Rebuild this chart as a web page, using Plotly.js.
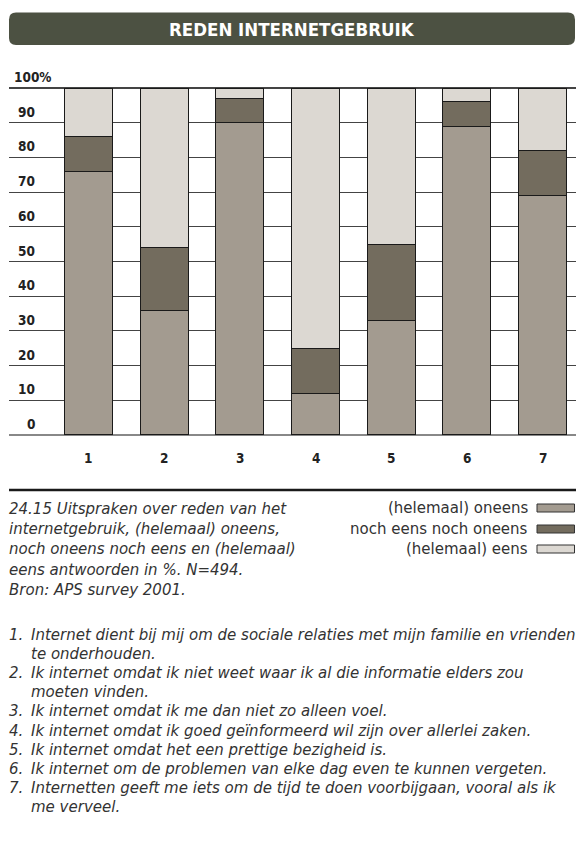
<!DOCTYPE html>
<html>
<head>
<meta charset="utf-8">
<script src="https://cdn.plot.ly/plotly-3.0.1.min.js"></script>
<style>
html,body{margin:0;padding:0;background:#fff;}
#chart{width:576px;height:848px;}
</style>
</head>
<body>
<div id="chart"></div>
<script>
// ---- data ----
var categories = [1, 2, 3, 4, 5, 6, 7];
var categoryLabels = ['1', '2', '3', '4', '5', '6', '7'];
var oneens   = [76, 36, 90, 12, 33, 89, 69];
var neutraal = [10, 18,  7, 13, 22,  7, 13];
var eens     = [14, 46,  3, 75, 45,  4, 18];
var seriesNames = ['(helemaal) oneens', 'noch eens noch oneens', '(helemaal) eens'];
var yTickVals = [0, 10, 20, 30, 40, 50, 60, 70, 80, 90];
var yTickLabels = ['0', '10', '20', '30', '40', '50', '60', '70', '80', '90'];
var yTopLabel = '100%';
var titleText = 'REDEN INTERNETGEBRUIK';
var captionLines = [
  '24.15 Uitspraken over reden van het',
  'internetgebruik, (helemaal) oneens,',
  'noch oneens noch eens en (helemaal)',
  'eens antwoorden in %. N=494.',
  'Bron: APS survey 2001.'
];
var statementNumbers = ['1.', '2.', '3.', '4.', '5.', '6.', '7.'];
var statementLines = [
  ['Internet dient bij mij om de sociale relaties met mijn familie en vrienden', 'te onderhouden.'],
  ['Ik internet omdat ik niet weet waar ik al die informatie elders zou', 'moeten vinden.'],
  ['Ik internet omdat ik me dan niet zo alleen voel.'],
  ['Ik internet omdat ik goed geïnformeerd wil zijn over allerlei zaken.'],
  ['Ik internet omdat het een prettige bezigheid is.'],
  ['Ik internet om de problemen van elke dag even te kunnen vergeten.'],
  ['Internetten geeft me iets om de tijd te doen voorbijgaan, vooral als ik', 'me verveel.']
];

// ---- styling / geometry ----
var W = 576, H = 848;
var M = {l: 9, r: 0, t: 87, b: 412};
var PW = W - M.l - M.r, PH = H - M.t - M.b;
function px(x) { return (x - M.l) / PW; }
function py(y) { return (H - M.b - y) / PH; }
var colors = ['#A39B90', '#736C5E', '#DCD8D2'];
var boldFont = "'Liberation Sans Narrow', 'DejaVu Sans Condensed', 'Roboto', sans-serif";
var textFont = "'DejaVu Sans', 'Liberation Sans', sans-serif";
var textSize = 15;
var darkText = '#222';
var bodyText = '#333';

var seriesValues = [oneens, neutraal, eens];
var traces = seriesValues.map(function (vals, i) {
  return {
    type: 'bar', x: categories, y: vals, name: seriesNames[i],
    marker: {color: colors[i], line: {color: '#1a1a1a', width: 1}},
    showlegend: false, hoverinfo: 'skip'
  };
});

var annotations = [];
var shapes = [];

// title bar
(function () {
  var x0 = px(9), x1 = px(575), y0 = py(45), y1 = py(12.5);
  var rx = 7 / PW, ry = 7 / PH;
  var p = 'M ' + (x0 + rx) + ',' + y1 +
    ' L ' + (x1 - rx) + ',' + y1 +
    ' Q ' + x1 + ',' + y1 + ' ' + x1 + ',' + (y1 - ry) +
    ' L ' + x1 + ',' + (y0 + ry) +
    ' Q ' + x1 + ',' + y0 + ' ' + (x1 - rx) + ',' + y0 +
    ' L ' + (x0 + rx) + ',' + y0 +
    ' Q ' + x0 + ',' + y0 + ' ' + x0 + ',' + (y0 + ry) +
    ' L ' + x0 + ',' + (y1 - ry) +
    ' Q ' + x0 + ',' + y1 + ' ' + (x0 + rx) + ',' + y1 + ' Z';
  shapes.push({type: 'path', xref: 'paper', yref: 'paper', path: p,
    fillcolor: '#4C5142', line: {width: 0}, layer: 'above'});
})();
annotations.push({xref: 'paper', yref: 'paper', x: px(292), y: py(29), text: '<b>' + titleText + '</b>',
  showarrow: false, xanchor: 'center', yanchor: 'middle',
  font: {family: boldFont, size: 18.5, color: '#ffffff'}});

// y labels (sit just above their gridlines)
yTickVals.forEach(function (v, i) {
  annotations.push({xref: 'paper', yref: 'y', x: px(37), y: v, yshift: 11, text: '<b>' + yTickLabels[i] + '</b>',
    showarrow: false, xanchor: 'right', yanchor: 'middle',
    font: {family: boldFont, size: 13.5, color: darkText}});
});
annotations.push({xref: 'paper', yref: 'y', x: px(12), y: 100, yshift: 11, text: '<b>' + yTopLabel + '</b>',
  showarrow: false, xanchor: 'left', yanchor: 'middle',
  font: {family: boldFont, size: 13.5, color: darkText}});

// x labels
categories.forEach(function (c, i) {
  annotations.push({xref: 'x', yref: 'paper', x: c, y: py(458), text: '<b>' + categoryLabels[i] + '</b>',
    showarrow: false, xanchor: 'center', yanchor: 'middle',
    font: {family: boldFont, size: 13.5, color: darkText}});
});

// separator
shapes.push({type: 'line', xref: 'paper', yref: 'paper', x0: px(9), x1: px(576), y0: py(490), y1: py(490),
  line: {color: '#1a1a1a', width: 2.5}});

// caption
var capY = [509, 529, 549, 570, 590];
captionLines.forEach(function (t, i) {
  annotations.push({xref: 'paper', yref: 'paper', x: px(7), y: py(capY[i]), text: '<i>' + t + '</i>',
    showarrow: false, xanchor: 'left', yanchor: 'middle',
    font: {family: textFont, size: textSize, color: bodyText}});
});

// legend (manual: text left of swatch)
var legY = [508, 529, 549];
seriesNames.forEach(function (n, i) {
  annotations.push({xref: 'paper', yref: 'paper', x: px(530), y: py(legY[i]), text: n,
    showarrow: false, xanchor: 'right', yanchor: 'middle',
    font: {family: textFont, size: textSize, color: bodyText}});
  shapes.push({type: 'rect', xref: 'paper', yref: 'paper', x0: px(537), x1: px(574.5),
    y0: py(legY[i] + 4), y1: py(legY[i] - 4), fillcolor: colors[i], line: {color: '#333', width: 1}});
});

// statements
var lineY = 635, lineStep = 19.1;
statementLines.forEach(function (lines, i) {
  annotations.push({xref: 'paper', yref: 'paper', x: px(7), y: py(lineY), text: '<i>' + statementNumbers[i] + '</i>',
    showarrow: false, xanchor: 'left', yanchor: 'middle',
    font: {family: textFont, size: textSize, color: bodyText}});
  lines.forEach(function (t) {
    annotations.push({xref: 'paper', yref: 'paper', x: px(29), y: py(lineY), text: '<i>' + t + '</i>',
      showarrow: false, xanchor: 'left', yanchor: 'middle',
      font: {family: textFont, size: textSize, color: bodyText}});
    lineY += lineStep;
  });
});

var layout = {
  width: W, height: H,
  margin: M,
  paper_bgcolor: '#ffffff', plot_bgcolor: '#ffffff',
  barmode: 'stack', bargap: 0.366,
  showlegend: false,
  xaxis: {range: [-0.05, 7.44], showgrid: false, zeroline: false, showticklabels: false, ticks: '', fixedrange: true},
  yaxis: {range: [-0.3, 100.3], tickmode: 'linear', tick0: 0, dtick: 10, showgrid: true,
    gridcolor: '#444', gridwidth: 1.2, zeroline: true, zerolinecolor: '#888', zerolinewidth: 1.5,
    showticklabels: false, ticks: '', fixedrange: true},
  annotations: annotations,
  shapes: shapes
};

Plotly.newPlot('chart', traces, layout, {staticPlot: true, displayModeBar: false});
</script>
</body>
</html>
